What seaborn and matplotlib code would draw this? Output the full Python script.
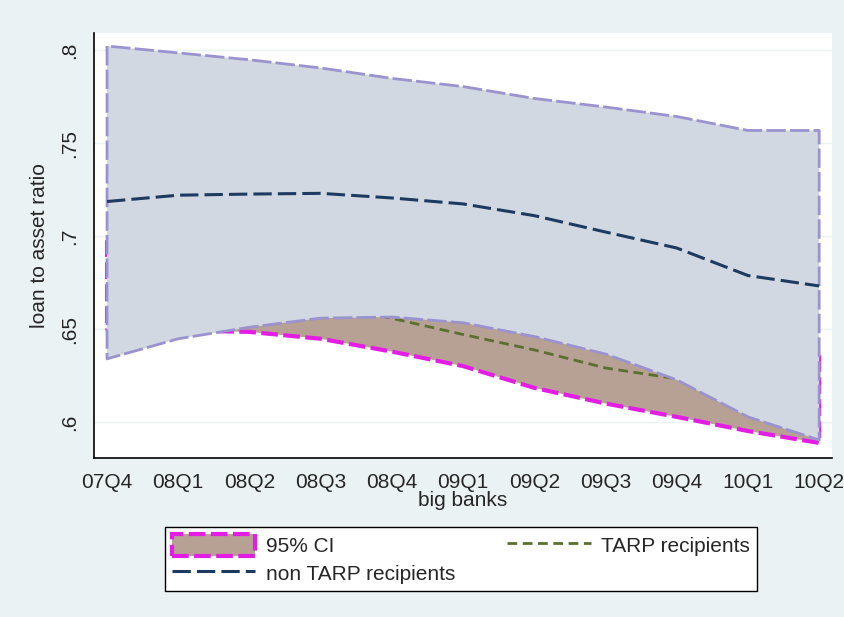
import numpy as np
import pandas as pd
import matplotlib
matplotlib.use("Agg")
import matplotlib.pyplot as plt
import seaborn as sns
from matplotlib.patches import Patch
from matplotlib.lines import Line2D

# ---- data ----
quarters = ["07Q4", "08Q1", "08Q2", "08Q3", "08Q4", "09Q1", "09Q2", "09Q3", "09Q4", "10Q1", "10Q2"]
nontarp_mean = [0.7188, 0.7222, 0.7228, 0.7232, 0.7207, 0.7175, 0.7112, 0.7024, 0.6938, 0.6790, 0.6734]
nontarp_upper = [0.8024, 0.7987, 0.7950, 0.7906, 0.7850, 0.7806, 0.7742, 0.7696, 0.7645, 0.7570, 0.7570]
nontarp_lower = [0.6342, 0.6450, 0.6512, 0.6561, 0.6567, 0.6536, 0.6462, 0.6368, 0.6229, 0.6030, 0.5906]
tarp_mean = [0.6740, 0.6720, 0.6680, 0.6630, 0.6560, 0.6473, 0.6390, 0.6293, 0.6235, 0.6170, 0.6130]
tarp_upper = [0.6980, 0.6930, 0.6880, 0.6830, 0.6770, 0.6700, 0.6620, 0.6550, 0.6480, 0.6420, 0.6380]
tarp_lower = [0.6504, 0.6495, 0.6487, 0.6450, 0.6381, 0.6303, 0.6186, 0.6102, 0.6030, 0.5954, 0.5890]
yticks = [0.6, 0.65, 0.7, 0.75, 0.8]
ytick_labels = [".6", ".65", ".7", ".75", ".8"]
legend_labels = ["95% CI", "non TARP recipients", "TARP recipients"]

# ---- styling ----
sns.set_style("white")
plt.rcParams["font.family"] = ["Liberation Sans", "DejaVu Sans"]

BG = "#eaf2f3"
GREY_FILL = "#d1d8e1"
LAVENDER = "#9a93cf"
BROWN = "#b7a094"
MAGENTA = "#e41de4"
NAVY = "#1d3a60"
OLIVE = "#5b6f30"

df = pd.DataFrame({
    "q": np.arange(len(quarters)),
    "nontarp": nontarp_mean,
    "tarp": tarp_mean,
})

fig = plt.figure(figsize=(8.44, 6.17), dpi=100, facecolor=BG)
ax = fig.add_axes([94 / 844, 1 - 458 / 617, (832 - 94) / 844, (458 - 33) / 617])
ax.set_facecolor("white")

x = df["q"].values

# grid lines
for yv in yticks:
    ax.axhline(yv, color=BG, lw=1.0, zorder=0.5)

# TARP CI (drawn first, partly hidden)
ax.fill_between(x, tarp_lower, tarp_upper, facecolor=BROWN, edgecolor=MAGENTA,
                linewidth=3.0, linestyle=(0, (4, 1.3)), zorder=1)
# TARP line
sns.lineplot(data=df, x="q", y="tarp", ax=ax, color=OLIVE, linewidth=2.0, zorder=1.5)
ax.lines[-1].set_dashes([3.5, 2])

# non-TARP CI
ax.fill_between(x, nontarp_lower, nontarp_upper, facecolor=GREY_FILL, edgecolor=LAVENDER,
                linewidth=2.0, linestyle=(0, (7, 1.5)), zorder=2)
# non-TARP line
sns.lineplot(data=df, x="q", y="nontarp", ax=ax, color=NAVY, linewidth=2.2, zorder=3)
ax.lines[-1].set_dashes([6, 2])

# axes
ax.set_xlim(-0.183, 10.18)
ax.set_ylim(0.5809, 0.8094)
ax.set_xticks(x)
ax.set_xticklabels(quarters, fontsize=15)
ax.set_yticks(yticks)
ax.set_yticklabels(ytick_labels, fontsize=15, rotation=90, va="center")
ax.tick_params(axis="both", direction="out", length=7, width=1.2, color="black", pad=4)
ax.tick_params(axis="x", pad=4)
for s in ["top", "right"]:
    ax.spines[s].set_visible(False)
for s in ["left", "bottom"]:
    ax.spines[s].set_color("black")
    ax.spines[s].set_linewidth(1.2)

ax.set_xlabel("big banks", fontsize=15, labelpad=-1)
ax.set_ylabel("loan to asset ratio", fontsize=15, labelpad=8)

# legend
handles = [
    Patch(facecolor=BROWN, edgecolor=MAGENTA, linewidth=3, linestyle=(0, (4, 1.3))),
    Line2D([], [], color=NAVY, linewidth=2.2, dashes=[6, 2]),
    Line2D([], [], color=OLIVE, linewidth=2.0, dashes=[3.5, 2]),
]
leg = fig.legend(handles, legend_labels, ncol=2, loc="upper center",
                 bbox_to_anchor=(461 / 844, 1 - 527 / 617), fontsize=15,
                 frameon=True, fancybox=False, shadow=False, edgecolor="black",
                 facecolor="white", handlelength=4.0, handleheight=1.25,
                 handletextpad=0.5, columnspacing=2.5, borderpad=0.35,
                 labelspacing=0.25, borderaxespad=0)
leg.get_frame().set_linewidth(1.0)
leg.get_frame().set_alpha(1)

fig.savefig("out.png", dpi=100, facecolor=BG)
